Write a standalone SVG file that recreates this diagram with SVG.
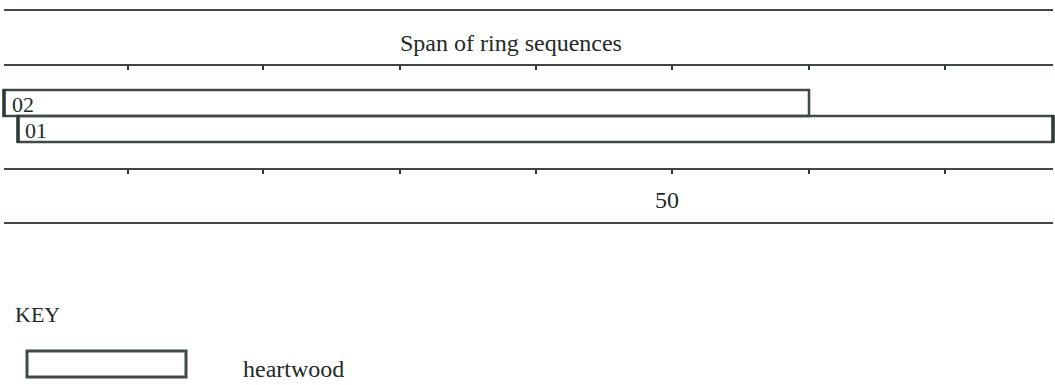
<svg xmlns="http://www.w3.org/2000/svg" width="1055" height="385" viewBox="0 0 1055 385">
<style>
.ln{stroke:#3d4a45;stroke-width:2;fill:none}
.tk{stroke:#2f3a36;stroke-width:2;fill:none}
.box{stroke:#3d4a45;stroke-width:2.5;fill:none}
.kbox{stroke:#3d4a45;stroke-width:3;fill:none}
.edge{stroke:#2f3a36;stroke-width:3.5;fill:none}
text{font-family:"Liberation Serif","Times New Roman",serif;fill:#222a27}
</style>
<rect width="1055" height="385" fill="#ffffff"/>
<g id="axis">
<line class="ln" x1="4" y1="10" x2="1053" y2="10"/>
<text x="511" y="51" font-size="24" text-anchor="middle">Span of ring sequences</text>
<line class="ln" x1="4" y1="65" x2="1053" y2="65"/>
<path class="tk" d="M128 65v5M263 65v5M400 65v5M536 65v5M672 65v5M809 65v5M945 65v5"/>
<line class="ln" x1="4" y1="169" x2="1053" y2="169"/>
<path class="tk" d="M128 169v5M263 169v5M400 169v5M536 169v5M672 169v5M809 169v5M945 169v5"/>
<text x="667" y="208" font-size="24" text-anchor="middle">50</text>
<line class="ln" x1="4" y1="223" x2="1053" y2="223"/>
</g>
<g id="node-02">
<rect class="box" x="4" y="90" width="805" height="26"/>
<line class="edge" x1="4" y1="89" x2="4" y2="117"/>
<text x="12" y="112" font-size="22">02</text>
</g>
<g id="node-01">
<rect class="box" x="18" y="116" width="1035" height="26"/>
<line class="edge" x1="18" y1="115" x2="18" y2="143"/>
<line class="edge" x1="1053" y1="115" x2="1053" y2="143"/>
<text x="25" y="138" font-size="22">01</text>
</g>
<g id="key">
<text x="15" y="322" font-size="22">KEY</text>
<rect class="kbox" x="27" y="351" width="159" height="26"/>
<text x="243" y="377" font-size="24">heartwood</text>
</g>
<g id="connectors"></g>
</svg>
